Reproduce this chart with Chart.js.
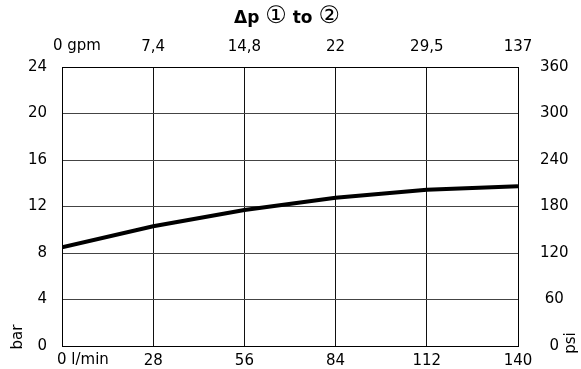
<!DOCTYPE html>
<html>
<head>
<meta charset="utf-8">
<script src="https://cdn.jsdelivr.net/npm/chart.js@4/dist/chart.umd.min.js"></script>
<style>
  html, body { margin: 0; padding: 0; background: #fff; }
  canvas { display: block; }
</style>
</head>
<body>
<canvas id="chart" width="581" height="369"></canvas>
<script>
// flow in l/min and pressure drop in bar
const flowLpm = [0, 28, 56, 84, 112, 140];
const pressureBar = [8.5, 10.3, 11.7, 12.75, 13.45, 13.75];

// top axis labels (gpm), as printed on the original
const gpmLabels = ['0 gpm', '7,4', '14,8', '22', '29,5', '137'];

const FONT = "'DejaVu Sans', sans-serif";

// fixed axis sizes so the plot box lands where the original has it
function fixHeight(h) { return s => { s.height = h; }; }
function fixWidth(w) {
    return s => {
        s.width = w;
        // tick padding would otherwise push the plot box up from the bottom
        s.paddingTop = 0;
        s.paddingBottom = 0;
    };
}

const extraText = {
    id: 'extraText',
    afterDraw(chart) {
        const c = chart.ctx;
        const area = chart.chartArea;
        c.save();
        c.fillStyle = '#000';

        // title, drawn in pieces so the circled numbers come out bigger
        const parts = [
            ['\u0394p ', 'bold 17px ' + FONT],
            ['\u2460', '24px ' + FONT],
            [' to ', 'bold 17px ' + FONT],
            ['\u2461', '24px ' + FONT]
        ];
        let total = 0;
        parts.forEach(p => { c.font = p[1]; total += c.measureText(p[0]).width; });
        let x = 287 - total / 2;
        c.textAlign = 'left';
        c.textBaseline = 'alphabetic';
        parts.forEach(p => {
            c.font = p[1];
            c.fillText(p[0], x, 23);
            x += c.measureText(p[0]).width;
        });

        // zero labels, left aligned like the original
        c.font = '15px ' + FONT;
        c.textBaseline = 'middle';
        c.fillText(gpmLabels[0], area.left - 9, 46);
        c.fillText('0 l/min', area.left - 5, 360);

        // unit labels, rotated
        c.save();
        c.translate(18, 337);
        c.rotate(-Math.PI / 2);
        c.textAlign = 'center';
        c.fillText('bar', 0, 0);
        c.restore();

        c.save();
        c.translate(571, 343);
        c.rotate(-Math.PI / 2);
        c.textAlign = 'center';
        c.fillText('psi', 0, 0);
        c.restore();

        c.restore();
    }
};

new Chart(document.getElementById('chart'), {
    type: 'line',
    data: {
        datasets: [{
            data: flowLpm.map((f, i) => ({ x: f, y: pressureBar[i] })),
            borderColor: '#000',
            borderWidth: 4,
            pointRadius: 0,
            tension: 0,
            fill: false
        }]
    },
    options: {
        responsive: false,
        animation: false,
        layout: { padding: 0 },
        plugins: {
            legend: { display: false },
            tooltip: { enabled: false }
        },
        font: { family: FONT },
        scales: {
            x: {
                type: 'linear',
                position: 'bottom',
                min: 0, max: 140,
                afterFit: fixHeight(23),
                grid: { color: '#111', lineWidth: 1, drawTicks: false },
                border: { color: '#000', width: 1 },
                ticks: {
                    stepSize: 28,
                    padding: 6,
                    color: '#000',
                    font: { family: FONT, size: 15 },
                    maxRotation: 0,
                    callback: v => v === 0 ? '' : String(v)
                }
            },
            x2: {
                type: 'linear',
                position: 'top',
                min: 0, max: 140,
                afterFit: fixHeight(67),
                grid: { display: false, drawTicks: false },
                border: { color: '#000', width: 1 },
                ticks: {
                    stepSize: 28,
                    padding: 11,
                    color: '#000',
                    font: { family: FONT, size: 15 },
                    maxRotation: 0,
                    callback: v => {
                        const i = flowLpm.indexOf(v);
                        return i > 0 ? gpmLabels[i] : '';
                    }
                }
            },
            y: {
                position: 'left',
                min: 0, max: 24,
                afterFit: fixWidth(62),
                grid: { color: '#444', lineWidth: 1, drawTicks: false },
                border: { color: '#000', width: 1 },
                ticks: {
                    stepSize: 4,
                    padding: 15,
                    color: '#000',
                    font: { family: FONT, size: 15 }
                }
            },
            y2: {
                position: 'right',
                min: 0, max: 360,
                afterFit: fixWidth(63),
                grid: { display: false, drawTicks: false },
                border: { color: '#000', width: 1 },
                ticks: {
                    stepSize: 60,
                    padding: 22,
                    crossAlign: 'center',
                    color: '#000',
                    font: { family: FONT, size: 15 }
                }
            }
        }
    },
    plugins: [extraText]
});
</script>
</body>
</html>
